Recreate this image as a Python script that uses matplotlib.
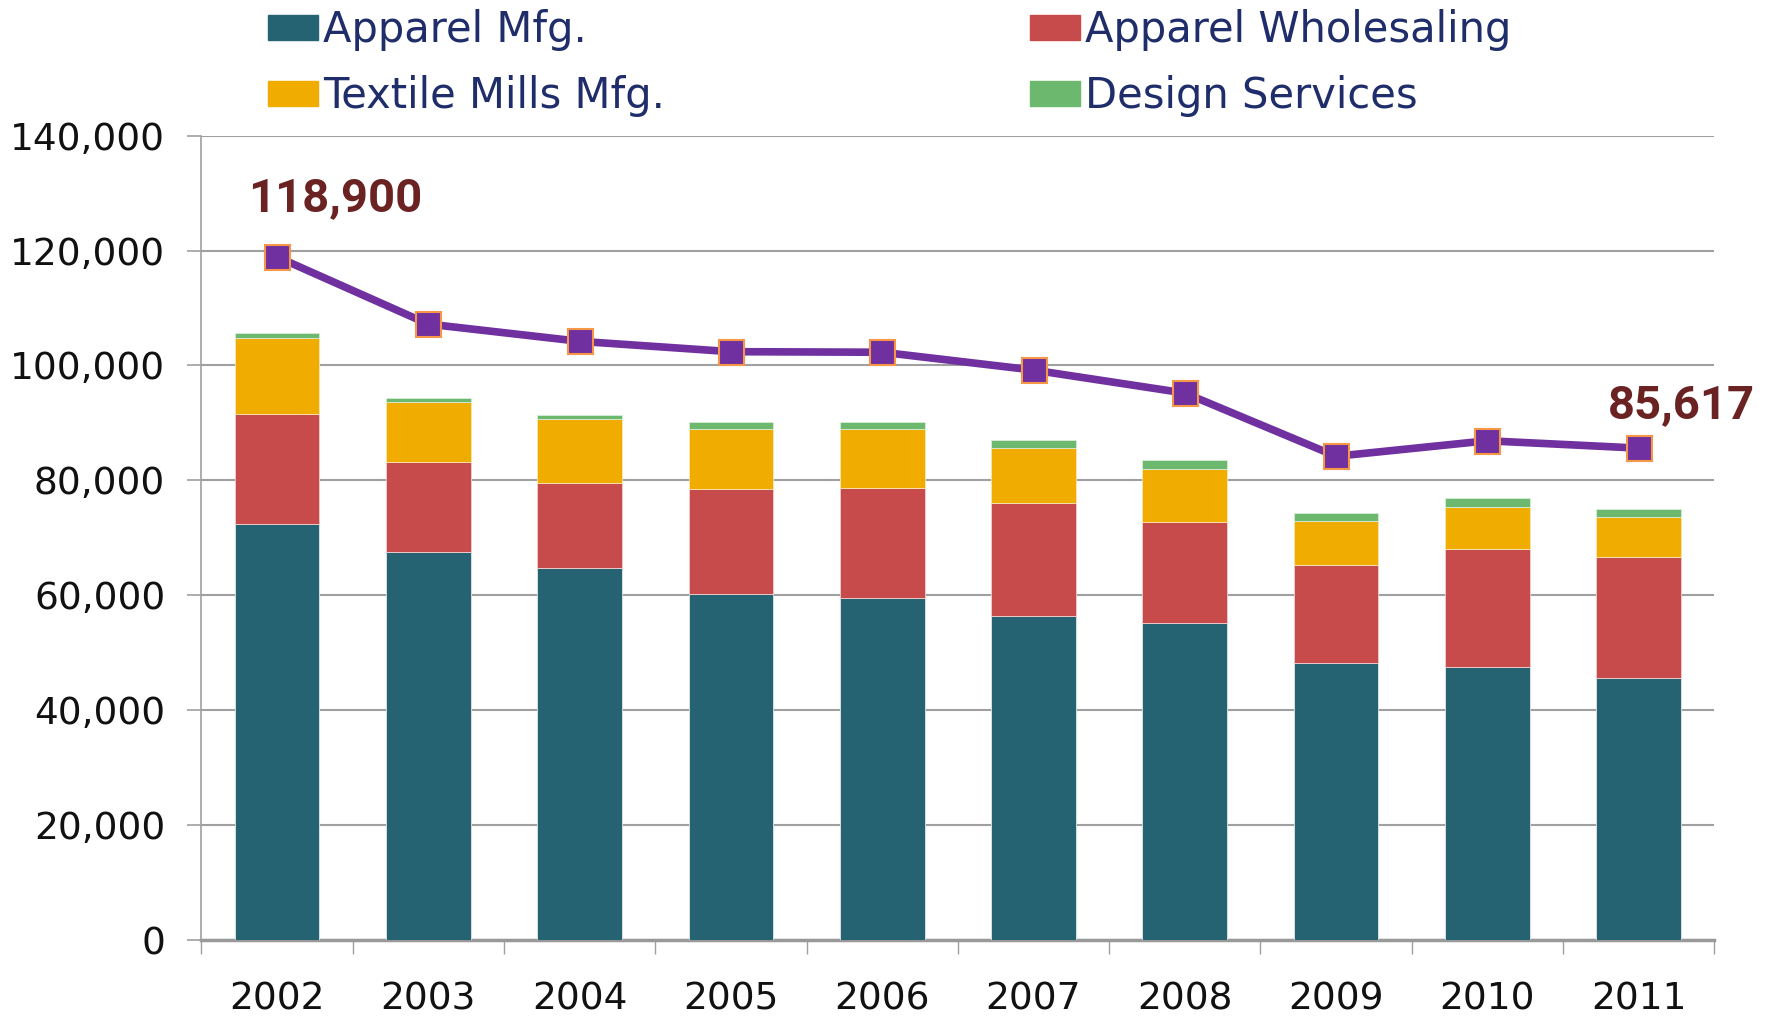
import matplotlib
matplotlib.use('Agg')
import matplotlib.pyplot as plt
from matplotlib.patches import Patch
from matplotlib.ticker import FuncFormatter, MultipleLocator
import numpy as np

plt.rcParams['font.family'] = ['DejaVu Sans']

years = ['2002', '2003', '2004', '2005', '2006', '2007', '2008', '2009', '2010', '2011']
apparel_mfg = [72400, 67600, 64700, 60200, 59600, 56400, 55200, 48200, 47600, 45600]
apparel_whole = [19200, 15600, 14900, 18300, 19100, 19700, 17500, 17100, 20400, 21000]
textile_mills = [13200, 10400, 11000, 10400, 10200, 9600, 9200, 7700, 7300, 7100]
design_serv = [800, 800, 800, 1200, 1200, 1400, 1600, 1400, 1600, 1400]
total = [118900, 107200, 104200, 102400, 102300, 99200, 95200, 84200, 86900, 85617]

c_mfg = '#256373'
c_whole = '#C84B4B'
c_text = '#F0AD00'
c_design = '#6CB86E'
c_line = '#7030A0'
c_label = '#6B2222'
c_legend = '#1F2D6B'

fig = plt.figure(figsize=(17.72, 10.17), dpi=100)
ax = fig.add_axes([0.1136, 0.0755, 0.8539, 0.7912])

x = np.arange(len(years))
w = 0.56
b1 = np.array(apparel_mfg)
b2 = b1 + np.array(apparel_whole)
b3 = b2 + np.array(textile_mills)
ax.bar(x, apparel_mfg, w, color=c_mfg, edgecolor='#dfe8ea', linewidth=0.6, zorder=3)
ax.bar(x, apparel_whole, w, bottom=b1, color=c_whole, edgecolor='#f0d0d0', linewidth=0.6, zorder=3)
ax.bar(x, textile_mills, w, bottom=b2, color=c_text, edgecolor='#f8e6b8', linewidth=0.6, zorder=3)
ax.bar(x, design_serv, w, bottom=b3, color=c_design, edgecolor='#d8ecd8', linewidth=0.6, zorder=3)

ax.plot(x, total, color=c_line, linewidth=5.5, marker='s', markersize=18,
        markerfacecolor=c_line, markeredgecolor='#F79646', markeredgewidth=1.5, zorder=5)

lab_kw = dict(textcoords='offset points', ha='center', va='center', fontsize=34,
              fontweight='bold', color=c_label, zorder=6, family=['Roboto', 'DejaVu Sans'],
              annotation_clip=False)
ax.annotate('118,900', (x[0], total[0]), xytext=(42, 42), **lab_kw)
ax.annotate('85,617', (x[-1], total[-1]), xytext=(31, 31), **lab_kw)

ax.set_ylim(0, 140000)
ax.set_xlim(-0.5, len(years) - 0.5)
ax.yaxis.set_major_locator(MultipleLocator(20000))
ax.yaxis.set_major_formatter(FuncFormatter(lambda v, p: f'{int(v):,}'))
ax.grid(axis='y', color='#a0a0a0', linewidth=1.5, zorder=0)
ax.set_axisbelow(True)

for s in ['top', 'right']:
    ax.spines[s].set_visible(False)
ax.spines['left'].set_color('#a0a0a0')
ax.spines['left'].set_linewidth(1.2)
ax.spines['bottom'].set_color('#999999')
ax.spines['bottom'].set_linewidth(2.5)

ax.set_xticks(x)
ax.set_xticklabels(years)
ax.set_xticks(np.arange(-0.5, len(years)), minor=True)
ax.tick_params(axis='x', which='major', length=0, pad=30, labelsize=27, labelcolor='#111111')
ax.tick_params(axis='x', which='minor', length=10, width=1, color='#a0a0a0', direction='out')
ax.tick_params(axis='y', length=10, width=1.2, color='#a0a0a0', pad=16, labelsize=27, labelcolor='#111111')

h1 = [Patch(color=c_mfg), Patch(color=c_text)]
h2 = [Patch(color=c_whole), Patch(color=c_design)]
kw = dict(loc='upper left', frameon=False, fontsize=30, handlelength=1.22, handleheight=0.54,
          handletextpad=0.12, labelspacing=0.57, labelcolor=c_legend, borderpad=0, borderaxespad=0)
fig.legend(h1, ['Apparel Mfg.', 'Textile Mills Mfg.'], bbox_to_anchor=(0.151, 0.991), **kw)
fig.legend(h2, ['Apparel Wholesaling', 'Design Services'], bbox_to_anchor=(0.581, 0.991), **kw)

fig.savefig('out.png', dpi=100)
